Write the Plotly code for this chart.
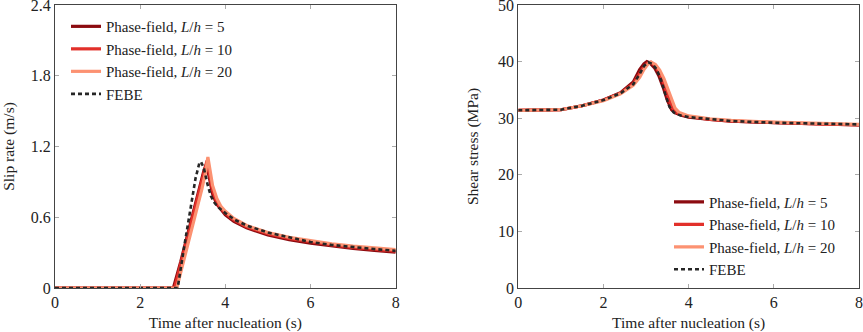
import plotly.graph_objects as go

# ---------------- data ----------------
# Slip rate (m/s) vs time after nucleation (s)
slip_t5 = [0, 2.78, 2.95, 3.1, 3.25, 3.4, 3.5, 3.56, 3.62, 3.7, 3.8, 3.9, 4.0, 4.2, 4.5, 5.0, 5.5, 6.0, 6.5, 7.0, 7.5, 8.0]
slip_v5 = [0, 0, 0.22, 0.43, 0.64, 0.86, 1.0, 1.05, 0.93, 0.8, 0.71, 0.66, 0.62, 0.565, 0.51, 0.45, 0.41, 0.38, 0.355, 0.335, 0.318, 0.303]

slip_t10 = [0, 2.81, 2.95, 3.1, 3.25, 3.4, 3.5, 3.57, 3.63, 3.7, 3.8, 3.9, 4.0, 4.2, 4.5, 5.0, 5.5, 6.0, 6.5, 7.0, 7.5, 8.0]
slip_v10 = [0, 0, 0.2, 0.41, 0.62, 0.84, 0.98, 1.08, 0.96, 0.83, 0.73, 0.675, 0.635, 0.578, 0.52, 0.46, 0.42, 0.39, 0.365, 0.345, 0.328, 0.313]

slip_t20 = [0, 2.86, 3.0, 3.15, 3.3, 3.45, 3.54, 3.59, 3.64, 3.7, 3.8, 3.9, 4.0, 4.2, 4.5, 5.0, 5.5, 6.0, 6.5, 7.0, 7.5, 8.0]
slip_v20 = [0, 0, 0.2, 0.41, 0.62, 0.84, 0.99, 1.11, 1.0, 0.87, 0.76, 0.69, 0.65, 0.59, 0.53, 0.47, 0.43, 0.40, 0.375, 0.355, 0.34, 0.325]

slip_tF = [0, 2.88, 3.04, 3.17, 3.30, 3.39, 3.43, 3.5, 3.58, 3.66, 3.75, 3.85, 4.0, 4.23, 4.5, 5.0, 5.5, 6.0, 6.5, 7.0, 7.5, 8.0]
slip_vF = [0, 0, 0.365, 0.647, 0.93, 1.06, 1.07, 1.01, 0.88, 0.78, 0.72, 0.68, 0.635, 0.577, 0.53, 0.47, 0.43, 0.39, 0.365, 0.345, 0.33, 0.315]

# Shear stress (MPa) vs time after nucleation (s)
stress_t5 = [0, 0.5, 1.0, 1.5, 2.0, 2.4, 2.7, 2.85, 2.95, 3.02, 3.1, 3.2, 3.3, 3.4, 3.5, 3.6, 3.7, 3.85, 4.0, 4.5, 5.0, 6.0, 7.0, 8.0]
stress_s5 = [31.4, 31.4, 31.5, 32.2, 33.2, 34.5, 36.4, 38.6, 39.6, 40.0, 39.7, 38.9, 37.5, 35.5, 33.2, 31.5, 30.9, 30.5, 30.2, 29.8, 29.5, 29.2, 29.0, 28.8]

stress_t10 = [0, 0.5, 1.0, 1.5, 2.0, 2.4, 2.7, 2.85, 2.95, 3.04, 3.11, 3.21, 3.31, 3.41, 3.51, 3.6, 3.7, 3.85, 4.0, 4.5, 5.0, 6.0, 7.0, 8.0]
stress_s10 = [31.4, 31.4, 31.5, 32.2, 33.2, 34.4, 36.1, 37.9, 39.1, 39.8, 39.9, 39.3, 38.1, 36.3, 34.0, 32.0, 31.1, 30.6, 30.3, 29.8, 29.5, 29.2, 29.0, 28.8]

stress_t20 = [0, 0.5, 1.0, 1.5, 2.0, 2.4, 2.7, 2.85, 2.95, 3.05, 3.12, 3.22, 3.32, 3.42, 3.52, 3.6, 3.68, 3.78, 3.9, 4.0, 4.5, 5.0, 6.0, 7.0, 8.0]
stress_s20 = [31.4, 31.4, 31.5, 32.2, 33.1, 34.3, 35.8, 37.2, 38.6, 39.6, 39.9, 39.5, 38.5, 37.0, 35.0, 33.2, 31.8, 31.0, 30.6, 30.4, 29.9, 29.6, 29.3, 29.1, 28.9]

stress_tF = [0, 0.5, 1.0, 1.5, 2.0, 2.4, 2.7, 2.85, 2.95, 3.05, 3.15, 3.25, 3.35, 3.45, 3.55, 3.65, 3.8, 4.0, 4.5, 5.0, 6.0, 7.0, 8.0]
stress_sF = [31.4, 31.4, 31.5, 32.2, 33.2, 34.4, 36.0, 37.8, 39.2, 39.9, 39.6, 38.6, 36.8, 34.3, 32.0, 31.0, 30.5, 30.2, 29.8, 29.5, 29.2, 29.0, 28.9]

names = ["Phase-field, <i>L</i>/<i>h</i> = 5",
         "Phase-field, <i>L</i>/<i>h</i> = 10",
         "Phase-field, <i>L</i>/<i>h</i> = 20",
         "FEBE"]

x_ticks = [0, 2, 4, 6, 8]
slip_ticks = [0, 0.6, 1.2, 1.8, 2.4]
slip_ticklabels = ["0", "0.6", "1.2", "1.8", "2.4"]
stress_ticks = [0, 10, 20, 30, 40, 50]

# ---------------- styles ----------------
colors = ["#8c0b10", "#e2302a", "#fc9272", "#262626"]
widths = [3.2, 3.2, 3.2, 2.6]
FONT = "Liberation Serif"
TXT = "#222222"

fig = go.Figure()

slip_sets = [(slip_t5, slip_v5), (slip_t10, slip_v10), (slip_t20, slip_v20), (slip_tF, slip_vF)]
stress_sets = [(stress_t5, stress_s5), (stress_t10, stress_s10), (stress_t20, stress_s20), (stress_tF, stress_sF)]

for i, (t, v) in enumerate(slip_sets):
    fig.add_trace(go.Scatter(
        x=t, y=v, mode="lines", name=names[i],
        line=dict(color=colors[i], width=widths[i], dash="4px,3px" if i == 3 else "solid"),
        xaxis="x", yaxis="y", legend="legend"))

for i, (t, v) in enumerate(stress_sets):
    fig.add_trace(go.Scatter(
        x=t, y=v, mode="lines", name=names[i],
        line=dict(color=colors[i], width=widths[i], dash="4px,3px" if i == 3 else "solid"),
        xaxis="x2", yaxis="y2", legend="legend2"))

axis_common = dict(
    showgrid=False, zeroline=False, showline=True, linecolor="#444444", linewidth=1,
    mirror="allticks", ticks="inside", ticklen=4, tickcolor="#aaaaaa", tickwidth=1,
    tickfont=dict(family=FONT, size=16, color=TXT), ticklabeloverflow="allow",
    automargin=False,
)
title_font = dict(family=FONT, size=15.5, color=TXT)

fig.update_layout(
    width=863, height=332,
    margin=dict(l=0, r=0, t=5, b=44, autoexpand=False),
    paper_bgcolor="white", plot_bgcolor="white",
    font=dict(family=FONT, size=15, color=TXT),
    showlegend=True,
    xaxis=dict(domain=[55 / 863, 395.7 / 863], range=[0, 8], tickvals=x_ticks,
               title=dict(text="Time after nucleation (s)", standoff=8, font=title_font),
               anchor="y", **axis_common),
    yaxis=dict(domain=[0, 1], range=[0, 2.4], tickvals=slip_ticks, ticktext=slip_ticklabels,
               title=dict(text="Slip rate (m/s)", standoff=21, font=title_font),
               anchor="x", **axis_common),
    xaxis2=dict(domain=[518.3 / 863, 859 / 863], range=[0, 8], tickvals=x_ticks,
                title=dict(text="Time after nucleation (s)", standoff=8, font=title_font),
                anchor="y2", **axis_common),
    yaxis2=dict(domain=[0, 1], range=[0, 50], tickvals=stress_ticks,
                title=dict(text="Shear stress (MPa)", standoff=15, font=title_font),
                anchor="x2", **axis_common),
    legend=dict(x=66 / 863, y=0.982, xanchor="left", yanchor="top",
                bgcolor="rgba(255,255,255,0)", borderwidth=0,
                font=dict(family=FONT, size=15, color=TXT),
                itemwidth=30, tracegroupgap=0),
    legend2=dict(x=669 / 863, y=0.362, xanchor="left", yanchor="top",
                 bgcolor="rgba(255,255,255,0)", borderwidth=0,
                 font=dict(family=FONT, size=15, color=TXT),
                 itemwidth=30, tracegroupgap=0),
)

fig.write_html("out.html", config={"displayModeBar": False},
               post_script="document.body.style.margin='0';document.body.style.overflow='hidden';")
